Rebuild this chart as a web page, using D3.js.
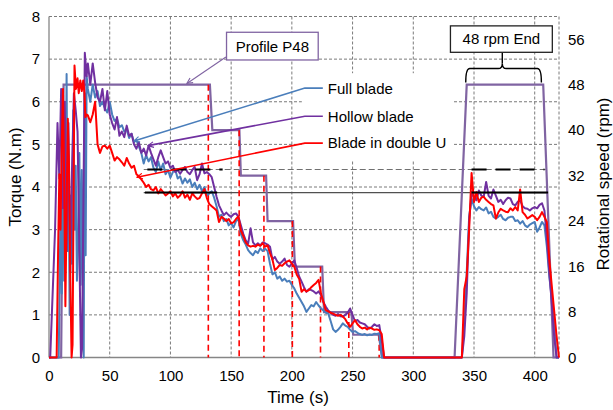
<!DOCTYPE html>
<html><head><meta charset="utf-8">
<script src="https://cdn.jsdelivr.net/npm/d3@7"></script>
<style>body{margin:0;background:#fff}svg text{font-family:"Liberation Sans",Arial,sans-serif;fill:#000}</style>
</head><body><svg id="c" width="613" height="410"></svg>
<script>
// ---------- DATA ----------
const xTicks = [0, 50, 100, 150, 200, 250, 300, 350, 400];
const torqueTicks = [0, 1, 2, 3, 4, 5, 6, 7, 8];
const rpmTicks = [0, 8, 16, 24, 32, 40, 48, 56];

// early transient (s, N.m)
const fullEarlyT = [0, 8, 9.5, 10.5, 11.5, 12.5, 13.5, 14.5, 15.3, 16.2, 17, 18, 19, 20, 21, 22, 23, 24, 25, 26, 27, 28, 28.6, 29.3, 30.2, 31];
const fullEarlyV = [0, 0, 3.5, 1.5, 5.5, 1.8, 3.2, 6.65, 2.5, 4.2, 1.0, 3.8, 2.2, 5.8, 3.0, 4.5, 1.8, 2.6, 4.8, 1.7, 4.4, 1.5, 0, 6.2, 2.4, 6.6];
const hollowEarlyT = [0, 1, 5, 7, 8.5, 10, 11.5, 13, 14.5, 16, 17.5, 19, 20.5, 22, 23.5, 25, 26.3, 27.2, 29.5, 31];
const hollowEarlyV = [0, 0, 3.0, 5.5, 4.2, 6.3, 3.5, 6.0, 2.5, 5.5, 2.0, 4.5, 6.2, 5.8, 5.3, 2.5, 0, 0.2, 7.15, 6.6];
const redEarlyT = [0, 6.3, 7.5, 8.5, 9.5, 10.5, 11.5, 12.5, 13.5, 14.5, 15.5, 16.5, 17.5, 18.6, 19.4, 21, 22.2, 23.5, 24.5, 25.8, 27, 28.2, 29.2, 30, 31];
const redEarlyV = [0, 0, 2.5, 4.3, 3.0, 5.0, 6.3, 4.2, 1.2, 3.5, 5.6, 4.5, 2.0, 0, 0.3, 6.85, 6.3, 6.55, 6.2, 6.5, 6.25, 6.5, 6.2, 5.64, 5.7];

// main descending phase
const timeMain = [32, 34, 36, 38, 40, 42, 44, 46, 48, 50,
  52, 54, 56, 58, 60, 62, 64, 66, 68, 70,
  72, 74, 76, 78, 80, 82, 84, 86, 88, 90,
  92, 94, 96, 98, 100, 102, 104, 106, 108, 110,
  112, 114, 116, 118, 120, 122, 124, 126, 128, 130,
  132, 134, 136, 138, 140, 142, 144, 146, 148, 150,
  152, 154, 156, 158, 160, 162, 164, 166, 168, 170,
  172, 174, 176, 178, 180, 182, 184, 186, 188, 190,
  192, 194, 196, 198, 200, 202, 204, 206, 208, 210,
  212, 214, 216, 218, 220, 222, 224, 226, 228, 230,
  232, 234, 236, 238, 240, 242, 244, 246, 248, 250,
  252, 254, 256, 258, 260, 262, 264, 266, 268, 270,
  272, 274, 276];
const fullMain = [6.3, 6.0, 6.4, 6.1, 6.25, 5.9, 6.0, 5.85, 5.75, 6.0,
  5.7, 5.55, 5.6, 5.4, 5.45, 5.3, 5.35, 5.15, 5.25, 5.05,
  5.1, 4.95, 4.8, 4.55, 4.75, 4.6, 4.7, 4.45, 4.35, 4.6,
  4.4, 4.55, 4.3, 4.4, 4.22, 4.35, 4.4, 4.2, 4.25, 4.08,
  4.2, 4.1, 4.18, 4.0, 4.1, 3.95, 4.05, 3.9, 4.0, 3.8,
  3.85, 3.9, 3.75, 3.55, 3.3, 3.35, 3.2, 3.25, 3.1, 3.15,
  3.05, 3.2, 3.25, 2.9, 2.75, 2.65, 2.52, 2.45, 2.4, 2.5,
  2.45, 2.56, 2.5, 2.55, 2.5, 2.2, 1.95, 2.0, 1.85, 1.9,
  1.8, 1.85, 1.78, 1.8, 1.7, 1.62, 1.5, 1.4, 1.3, 1.2,
  1.07, 1.15, 1.23, 1.2, 1.3, 1.22, 1.15, 1.1, 1.05, 1.03,
  0.85, 0.66, 0.6, 0.65, 0.72, 0.8, 0.75, 0.72, 0.65, 0.6,
  0.62, 0.58, 0.55, 0.53, 0.55, 0.52, 0.54, 0.53, 0.56, 0.55,
  0.57, 0, 0];
const hollowMain = [6.9, 6.4, 6.9, 6.45, 6.1, 6.0, 6.3, 5.8, 6.25, 5.7,
  5.5, 5.35, 5.64, 5.2, 5.3, 5.17, 5.44, 5.2, 5.25, 5.0,
  4.9, 5.05, 4.8, 4.9, 4.74, 4.97, 4.8, 4.65, 4.5, 4.7,
  4.86, 4.7, 4.55, 4.6, 4.45, 4.5, 4.35, 4.4, 4.31, 4.4,
  4.47, 4.35, 4.3, 4.4, 4.47, 4.16, 4.3, 4.55, 4.32, 4.35,
  4.3, 4.23, 4.0, 3.77, 3.57, 3.45, 3.34, 3.4, 3.34, 3.3,
  3.36, 3.38, 3.3, 3.1, 2.9, 2.75, 2.67, 3.03, 2.7, 2.63,
  2.68, 2.63, 2.7, 2.68, 2.65, 2.6, 2.3, 2.36, 2.25, 2.2,
  2.25, 2.32, 2.17, 2.13, 2.2, 2.28, 2.1, 1.9, 1.78, 1.65,
  1.54, 1.6, 1.58, 1.55, 1.5, 1.55, 1.46, 1.3, 1.19, 1.1,
  1.05, 1.0, 0.98, 1.02, 0.97, 0.96, 1.0, 1.05, 1.15, 1.0,
  0.85, 0.88, 0.82, 0.8, 0.78, 0.72, 0.68, 0.72, 0.78, 0.74,
  0.76, 0.4, 0];
const redMain = [5.68, 5.52, 5.7, 6.0, 5.0, 4.8, 4.95, 4.97, 4.9, 4.97,
  4.8, 4.62, 4.7, 4.65, 4.58, 4.5, 4.68, 4.55, 4.45, 4.5,
  4.3, 4.25, 4.18, 4.1, 4.0, 4.05, 3.95, 3.92, 4.0, 3.85,
  3.95, 3.88, 3.8, 3.85, 3.9, 3.78, 3.85, 3.75, 3.8, 3.9,
  3.75, 3.82, 3.7, 3.85, 3.78, 3.72, 3.74, 3.85, 3.95, 3.74,
  3.6, 3.55, 3.5, 3.45, 3.18, 3.3, 3.26, 3.2, 3.25, 3.15,
  3.17, 3.25, 3.31, 2.98, 2.85, 2.7, 2.63, 2.6, 2.62, 2.6,
  2.65, 2.62, 2.68, 2.6, 2.63, 2.45, 2.3, 2.05, 2.1, 2.17,
  2.15, 2.21, 2.25, 2.28, 2.2, 2.13, 1.95, 1.85, 1.54, 1.6,
  1.55, 1.58, 1.65, 1.7, 1.75, 1.82, 1.5, 1.3, 1.11, 1.08,
  1.05, 1.03, 1.0, 0.98, 1.0, 0.96, 0.9, 0.8, 0.72, 0.8,
  0.88, 0.78, 0.72, 0.68, 0.7, 0.66, 0.7, 0.68, 0.65, 0.66,
  0.64, 0.55, 0];

// final 48 rpm phase
const timeEnd = [338, 340, 342, 344, 346, 348, 350, 352, 354, 356,
  358, 360, 362, 364, 366, 368, 370, 372, 374, 376,
  378, 380, 382, 384, 386, 388, 390, 392, 394, 396,
  398, 400, 402, 404, 406, 408, 410, 412, 414, 416,
  418, 420];
const fullEnd = [0, 0, 0.8, 2.0, 3.3, 3.73, 3.55, 3.45, 3.53, 3.48,
  3.45, 3.52, 3.38, 3.42, 3.3, 3.26, 3.3, 3.35, 3.25, 3.22,
  3.28, 3.3, 3.3, 3.2, 3.22, 3.14, 3.2, 3.1, 3.06, 3.12,
  3.15, 3.18, 2.95, 3.05, 3.18, 3.1, 2.6, 1.9, 1.42, 0.8,
  0, 0];
const hollowEnd = [0, 0, 0.5, 1.5, 3.2, 3.88, 3.75, 3.69, 3.92, 3.8,
  3.77, 4.12, 3.8, 3.73, 3.94, 3.8, 3.65, 3.7, 3.6, 3.69,
  3.75, 3.73, 3.6, 3.57, 3.65, 3.69, 3.55, 3.5, 3.49, 3.45,
  3.5, 3.53, 3.5, 3.58, 3.62, 3.45, 2.8, 2.0, 1.3, 0.5,
  0, 0];
const redEnd = [0, 0, 1.6, 1.9, 3.0, 4.33, 3.65, 3.88, 3.65, 3.75,
  3.77, 3.7, 3.65, 3.6, 3.57, 3.26, 3.4, 3.49, 3.45, 3.42,
  3.41, 3.5, 3.45, 3.53, 3.45, 3.94, 3.41, 3.35, 3.26, 3.3,
  3.34, 3.3, 3.22, 3.3, 3.41, 3.3, 3.18, 2.3, 1.7, 1.1,
  0.5, 0];

// speed profile P48 (s, rpm)
const profileT = [0, 10, 12, 132.5, 134.5, 156.8, 158, 178.8, 180, 201, 202.5, 225, 226.5, 249, 250.5, 271.5, 274.5, 334, 344, 407, 415.5, 420];
const profileRpm = [0, 0, 48, 48, 40, 40, 32, 32, 24, 24, 16, 16, 8, 8, 4, 4, 0, 0, 48, 48, 0, 0];

// red dashed step markers
const markT = [131.2, 156.6, 177, 200.4, 223.6, 246.9, 271.9];
const markRpm = [48, 40, 32, 24, 16, 8, 4];

// reference torque levels
const refDashedTorque = 4.41;
const refSolidTorque = 3.87;
const refSpan = [78, 411];
const refSolidSpans = [[79, 138.5], [348, 411]];
const refDashedSpans = [[81, 143], [348, 408]];

const seriesNames = ["Full blade", "Hollow blade", "Blade in double U"];

// ---------- CHART ----------
const svg = d3.select("#c");
const L = 49, R = 559, T = 16.5, B = 357.5;
const x = d3.scaleLinear().domain([0, 420]).range([L, R]);
const y = d3.scaleLinear().domain([0, 8]).range([B, T]);
const yR = d3.scaleLinear().domain([0, 60]).range([B, T]);
const font = "'Liberation Sans', Arial, sans-serif";

// gridlines
const grid = svg.append("g").attr("stroke", "#7a7a7a").attr("stroke-width", 1).attr("stroke-dasharray", "3,2");
grid.selectAll(".v").data(xTicks.slice(1).concat([420])).enter().append("line")
  .attr("x1", d => x(d)).attr("x2", d => x(d)).attr("y1", T).attr("y2", B);
grid.selectAll(".h").data(torqueTicks.slice(1)).enter().append("line")
  .attr("x1", L).attr("x2", R).attr("y1", d => y(d)).attr("y2", d => y(d));

// white legend area
svg.append("rect").attr("x", x(208.2)).attr("y", y(6.67)).attr("width", x(332.5) - x(208.2)).attr("height", y(4.63) - y(6.67)).attr("fill", "#fff");

// axes lines
svg.append("line").attr("x1", L).attr("x2", L).attr("y1", T).attr("y2", B).attr("stroke", "#868686").attr("stroke-width", 1.3);
svg.append("line").attr("x1", L).attr("x2", R).attr("y1", B).attr("y2", B).attr("stroke", "#868686").attr("stroke-width", 1.3);

// axes
const axL = svg.append("g").attr("transform", `translate(${L},0)`).call(d3.axisLeft(y).tickValues(torqueTicks).tickSize(0).tickPadding(9).tickFormat(d3.format("d")));
const axB = svg.append("g").attr("transform", `translate(0,${B})`).call(d3.axisBottom(x).tickValues(xTicks).tickSize(0).tickPadding(13).tickFormat(d3.format("d")));
const axR = svg.append("g").attr("transform", `translate(${R},0)`).call(d3.axisRight(yR).tickValues(rpmTicks).tickSize(0).tickPadding(9).tickFormat(d3.format("d")));
[axL, axB, axR].forEach(a => { a.select(".domain").remove(); a.selectAll("text").attr("font-size", 15).attr("font-family", font).attr("fill", "#000"); });

// reference thin lines
svg.append("line").attr("x1", x(refSpan[0])).attr("x2", x(refSpan[1])).attr("y1", y(refDashedTorque)).attr("y2", y(refDashedTorque))
  .attr("stroke", "#707070").attr("stroke-width", 1.2).attr("stroke-dasharray", "6,3");
svg.append("line").attr("x1", x(refSpan[0])).attr("x2", x(refSpan[1])).attr("y1", y(refSolidTorque)).attr("y2", y(refSolidTorque))
  .attr("stroke", "#505050").attr("stroke-width", 1.2);

// speed profile
const lineRpm = d3.line().x((d, i) => x(profileT[i])).y(d => yR(d));
svg.append("path").attr("d", lineRpm(profileRpm)).attr("fill", "none").attr("stroke", "#8064A2").attr("stroke-width", 2.2);

// red dashed markers
svg.selectAll(".mk").data(markT).enter().append("line")
  .attr("x1", d => x(d)).attr("x2", d => x(d)).attr("y1", (d, i) => yR(markRpm[i])).attr("y2", B)
  .attr("stroke", "#ff0000").attr("stroke-width", 1.6).attr("stroke-dasharray", "6,4");

// data series
function pts(ts, vs) { return vs.map((v, i) => [ts[i], v]); }
const series = [
  { name: seriesNames[0], color: "#4A7EBB", data: pts(fullEarlyT, fullEarlyV).concat(pts(timeMain, fullMain), pts(timeEnd, fullEnd)) },
  { name: seriesNames[1], color: "#7030A0", data: pts(hollowEarlyT, hollowEarlyV).concat(pts(timeMain, hollowMain), pts(timeEnd, hollowEnd)) },
  { name: seriesNames[2], color: "#FF0000", data: pts(redEarlyT, redEarlyV).concat(pts(timeMain, redMain), pts(timeEnd, redEnd)) }
];
const line = d3.line().x(d => x(d[0])).y(d => y(d[1]));
svg.selectAll(".s").data(series).enter().append("path")
  .attr("d", d => line(d.data)).attr("fill", "none").attr("stroke", d => d.color)
  .attr("stroke-width", 2).attr("stroke-linejoin", "round");

// black reference segments
refSolidSpans.forEach(s => svg.append("line").attr("x1", x(s[0])).attr("x2", x(s[1])).attr("y1", y(refSolidTorque)).attr("y2", y(refSolidTorque))
  .attr("stroke", "#000").attr("stroke-width", 2));
refDashedSpans.forEach(s => svg.append("line").attr("x1", x(s[0])).attr("x2", x(s[1])).attr("y1", y(refDashedTorque)).attr("y2", y(refDashedTorque))
  .attr("stroke", "#000").attr("stroke-width", 2.2).attr("stroke-dasharray", "15,9"));

// arrow markers
const defs = svg.append("defs");
["#4A7EBB", "#7030A0", "#FF0000", "#8064A2"].forEach((c, i) => {
  defs.append("marker").attr("id", "ar" + i).attr("viewBox", "0 0 10 10").attr("refX", 9).attr("refY", 5)
    .attr("markerWidth", 7).attr("markerHeight", 7).attr("markerUnits", "userSpaceOnUse").attr("orient", "auto")
    .append("path").attr("d", "M1,1 L9,5 L1,9").attr("fill", "none").attr("stroke", c).attr("stroke-width", 1.6);
});

// legend leaders (data coords)
const legendTip = [[70, 5.08], [81.5, 4.97], [72.4, 4.23]];
const legendY = [6.32, 5.66, 5.03];
const legendElbowT = 210.7, legendEndT = 225.5, legendTextT = 229.6;
series.forEach((s, i) => {
  svg.append("path").attr("d", `M${x(legendEndT)},${y(legendY[i])} L${x(legendElbowT)},${y(legendY[i])} L${x(legendTip[i][0])},${y(legendTip[i][1])}`)
    .attr("fill", "none").attr("stroke", s.color).attr("stroke-width", 1.6).attr("marker-end", `url(#ar${i})`);
  svg.append("text").attr("x", x(legendTextT)).attr("y", y(legendY[i])).attr("dy", "0.36em").attr("font-size", 15).text(s.name);
});

// Profile P48 callout
svg.append("line").attr("x1", x(145.7)).attr("y1", y(7.05)).attr("x2", x(113.6)).attr("y2", y(6.43))
  .attr("stroke", "#8064A2").attr("stroke-width", 1.1).attr("marker-end", "url(#ar3)");
svg.append("rect").attr("x", x(146.2)).attr("y", y(7.63)).attr("width", x(221.7) - x(146.2)).attr("height", y(6.98) - y(7.63))
  .attr("fill", "#fff").attr("stroke", "#8064A2").attr("stroke-width", 1.3);
svg.append("text").attr("x", (x(146.2) + x(221.7)) / 2).attr("y", y(7.305)).attr("dy", "0.36em").attr("text-anchor", "middle").attr("font-size", 15).text("Profile P48");

// 48 rpm End callout with brace
const bl = x(343.2), br = x(405.5), bm = x(373.3), bb = y(6.45), bt = y(6.78), bp = y(6.9);
svg.append("path").attr("d", `M${bl},${bb} Q${bl},${bt} ${bl + 4},${bt} L${bm - 4},${bt} Q${bm},${bt} ${bm},${bp} Q${bm},${bt} ${bm + 4},${bt} L${br - 4},${bt} Q${br},${bt} ${br},${bb}`)
  .attr("fill", "none").attr("stroke", "#000").attr("stroke-width", 1.4);
svg.append("line").attr("x1", bm).attr("x2", bm).attr("y1", bp).attr("y2", y(7.16)).attr("stroke", "#000").attr("stroke-width", 1.4);
svg.append("rect").attr("x", x(330.6)).attr("y", y(7.78)).attr("width", x(414.5) - x(330.6)).attr("height", y(7.16) - y(7.78))
  .attr("fill", "#fff").attr("stroke", "#222").attr("stroke-width", 1.3);
svg.append("text").attr("x", (x(330.6) + x(414.5)) / 2).attr("y", y(7.47)).attr("dy", "0.36em").attr("text-anchor", "middle").attr("font-size", 15).text("48 rpm End");

// axis titles
svg.append("text").attr("x", 298).attr("y", 403).attr("text-anchor", "middle").attr("font-size", 17).text("Time (s)");
svg.append("text").attr("transform", "translate(21,177) rotate(-90)").attr("text-anchor", "middle").attr("font-size", 17).text("Torque (N.m)");
svg.append("text").attr("transform", "translate(609,184) rotate(-90)").attr("text-anchor", "middle").attr("font-size", 17).text("Rotational speed (rpm)");
</script></body></html>
